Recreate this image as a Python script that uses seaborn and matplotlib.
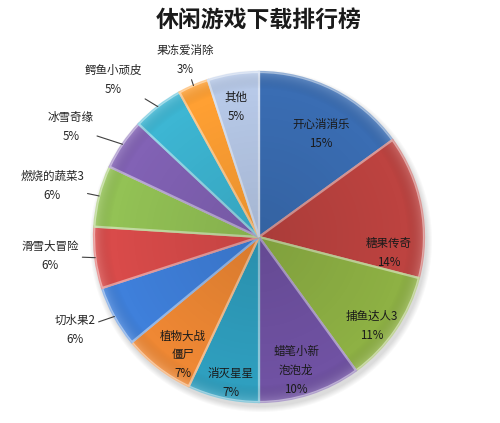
import numpy as np
import matplotlib
matplotlib.use("Agg")
import matplotlib.pyplot as plt
import matplotlib.colors as mcolors
from matplotlib.patches import Circle
import seaborn as sns

# 数据
games = ["开心消消乐", "糖果传奇", "捕鱼达人3", "蜡笔小新泡泡龙", "消灭星星", "植物大战僵尸",
         "切水果2", "滑雪大冒险", "燃烧的蔬菜3", "冰雪奇缘", "鳄鱼小顽皮", "果冻爱消除", "其他"]
shares = [15, 14, 11, 10, 7, 7, 6, 6, 6, 5, 5, 3, 5]
outside = [False, False, False, False, False, False, True, True, True, True, True, True, False]

colors = ['#3A6DB3', '#BD4340', '#8EB144', '#7052A3', '#2F9FBF', '#EF8834',
          '#3F80DB', '#D94B4A', '#93C255', '#8262B5', '#3DB6D3', '#FFA033', '#B7C9E8']

# label placement (radius factor, clockwise shift in degrees)
label_r = [0.73, 0.79, 0.87, 0.84, 0.90, 0.85, 1.25, 1.27, 1.29, 1.32, 1.30, 1.16, 0.80]
label_shift = [4, 18, 4, 2.5, -1.6, -5, 2, 2, -0.6, -4, -5, 0.7, -1]

sns.set_theme(style="white")
plt.rcParams['font.family'] = ['Noto Sans CJK SC', 'DejaVu Sans']

fig = plt.figure(figsize=(5, 4.23), dpi=100)
ax = fig.add_axes([0, 0, 1, 1])

cx, cy, R = 259, 186, 165

# faint shadow under the pie
for k in range(6):
    ax.add_patch(Circle((cx + 2, cy - 4), R + 1 + k, color='black',
                        alpha=0.025, lw=0, zorder=0))

wedges, _ = ax.pie(shares, colors=colors, startangle=90, counterclock=False,
                   center=(cx, cy), radius=R, frame=True,
                   wedgeprops=dict(edgecolor='white', linewidth=0.6))

# bevel: lighter edge of each wedge's own colour
for w, c in zip(wedges, colors):
    light = 0.55 * np.array(mcolors.to_rgb(c)) + 0.45
    w.set_edgecolor(light)
    w.set_linewidth(1.6)
    w.set_zorder(2)

# soft radial shading, clipped to the pie
xx, yy = np.meshgrid(np.linspace(-1, 1, 300), np.linspace(-1, 1, 300))
rr = np.sqrt(xx ** 2 + yy ** 2)
shade = np.zeros((300, 300, 4))
shade[..., 3] = np.clip(0.10 * (1 - rr / 0.9), 0, 0.10)
rim = np.clip((rr - 0.9) / 0.1, 0, 1)
shade[..., :3] = rim[..., None]
shade[..., 3] += 0.18 * rim
img = ax.imshow(shade, extent=(cx - R, cx + R, cy - R, cy + R), origin='lower',
                zorder=3, interpolation='bilinear')
img.set_clip_path(Circle((cx, cy), R, transform=ax.transData))

ax.set_xlim(0, 500)
ax.set_ylim(0, 423)
ax.set_aspect('equal')
ax.axis('off')

for w, name, val, out, rf, sh in zip(wedges, games, shares, outside, label_r, label_shift):
    mid = np.deg2rad((w.theta1 + w.theta2) / 2 - sh)
    tx, ty = cx + rf * R * np.cos(mid), cy + rf * R * np.sin(mid)
    txt = name
    if not out and len(name) > 5:
        txt = name[:4] + "\n" + name[4:]
    txt = f"{txt}\n{val}%"
    if out:
        emid = np.deg2rad((w.theta1 + w.theta2) / 2)
        ex, ey = cx + R * np.cos(emid), cy + R * np.sin(emid)
        ax.annotate(txt, xy=(ex, ey), xytext=(tx, ty), ha='center', va='center',
                    fontsize=8.3, color='#262626', linespacing=1.6, zorder=5,
                    arrowprops=dict(arrowstyle='-', color='#404040', lw=0.8,
                                    shrinkA=0, shrinkB=0))
    else:
        ax.text(tx, ty, txt, ha='center', va='center', fontsize=8.3,
                color='#1a1a1a', linespacing=1.6, zorder=5)

ax.text(259, 403, "休闲游戏下载排行榜", ha='center', va='center',
        fontsize=16.5, fontweight='bold', color='#1a1a1a')

fig.savefig("out.png", dpi=100, facecolor='white')
